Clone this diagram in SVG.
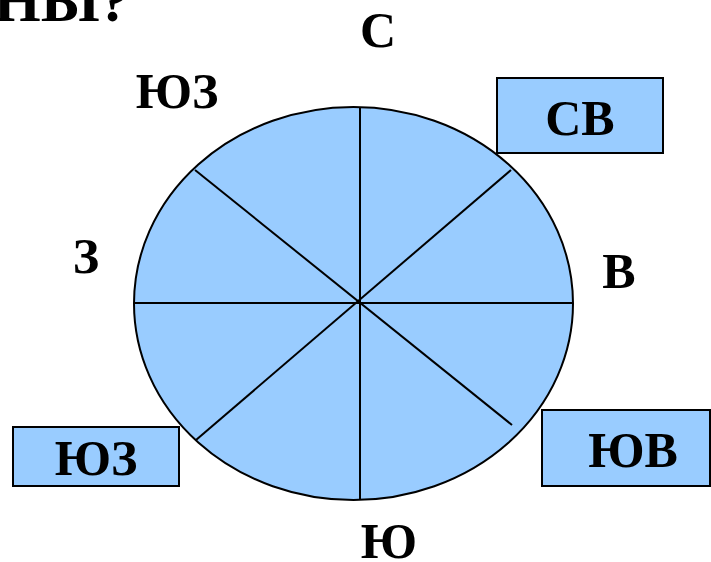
<svg xmlns="http://www.w3.org/2000/svg" width="711" height="562" viewBox="0 0 711 562">
<style>
.t{font-family:"Liberation Serif","Times New Roman",serif;font-weight:bold;font-size:50px;fill:#000;text-anchor:middle}
.b{fill:#99CCFF;stroke:#000;stroke-width:2}
.l{stroke:#000;stroke-width:2;fill:none}
</style>
<rect width="711" height="562" fill="#fff"/>
<text class="t" x="-6" y="21" style="font-size:60px;text-anchor:start">НЫ?</text>
<g id="circle">
<ellipse class="b" cx="353.5" cy="303.5" rx="219.5" ry="196.5"/>
</g>
<g id="connectors">
<line class="l" x1="360" y1="107" x2="360" y2="500"/>
<line class="l" x1="134" y1="303" x2="573" y2="303"/>
<line class="l" x1="195" y1="170" x2="512" y2="425"/>
<line class="l" x1="511" y1="170" x2="196" y2="440"/>
</g>
<g id="label-S"><text class="t" x="378" y="47">С</text></g>
<g id="label-YuZ-top"><text class="t" x="177" y="108">ЮЗ</text></g>
<g id="label-Z"><text class="t" x="86" y="273">З</text></g>
<g id="label-V"><text class="t" x="619" y="288">В</text></g>
<g id="label-Yu"><text class="t" x="389" y="558">Ю</text></g>
<g id="box-SV"><rect class="b" x="497" y="78" width="166" height="75"/><text class="t" x="580" y="135">СВ</text></g>
<g id="box-YuZ"><rect class="b" x="13" y="427" width="166" height="59"/><text class="t" x="96" y="475">ЮЗ</text></g>
<g id="box-YuV"><rect class="b" x="542" y="410" width="168" height="76"/><text class="t" x="633" y="467">ЮВ</text></g>
</svg>
